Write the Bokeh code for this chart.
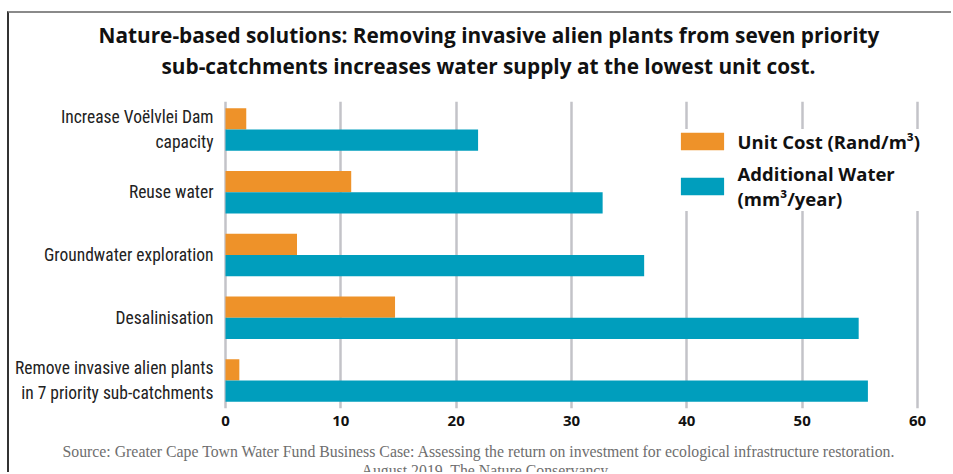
from bokeh.plotting import figure
from bokeh.models import (Range1d, FixedTicker, Legend, LegendItem, Title,
                          ColumnDataSource)
from bokeh.embed import file_html
from bokeh.resources import INLINE

# ---------------- data ----------------
categories = [
    "Increase Voëlvlei Dam\ncapacity",
    "Reuse water",
    "Groundwater exploration",
    "Desalinisation",
    "Remove invasive alien plants\nin 7 priority sub-catchments",
]
unit_cost = [1.8, 10.9, 6.2, 14.7, 1.2]
additional_water = [21.9, 32.7, 36.3, 54.9, 55.7]
x_ticks = [0, 10, 20, 30, 40, 50, 60]
series_names = ["Unit Cost (Rand/m³)", "Additional Water\n(mm³/year)"]
title_lines = [
    "Nature-based solutions: Removing invasive alien plants from seven priority",
    "sub-catchments increases water supply at the lowest unit cost.",
]
source_lines = [
    "Source: Greater Cape Town Water Fund Business Case: Assessing the return on investment for ecological infrastructure restoration.",
    "August 2019. The Nature Conservancy.",
]

# ---------------- layout (page pixels) ----------------
OX, OY = 9, 13            # canvas origin inside the framed crop
W, H = 953 - OX, 474 - OY
FL, FR, FT, FB = 215, 940, 101, 408
X0_PX, X60_PX = 225, 917
ppu = (X60_PX - X0_PX) / 60.0
row_pitch = 62.75
n = len(categories)
pos = [n - 1 - i for i in range(n)]

ORANGE = "#EE9229"
BLUE = "#009EBD"
GRID = "#C3C3C8"
LABEL_FONT = "Roboto Condensed, DejaVu Sans Condensed, Liberation Sans Narrow, Roboto"

p = figure(width=W, height=H, output_backend="svg", toolbar_location=None,
           title=None,
           x_range=Range1d(-(X0_PX - FL) / ppu, (FR - X0_PX) / ppu),
           y_range=Range1d(-(FB - 380) / row_pitch, (n - 1) + (129 - FT) / row_pitch),
           min_border_left=FL - OX, min_border_right=953 - FR,
           min_border_top=FT - OY, min_border_bottom=474 - FB)
p.outline_line_color = None
p.background_fill_color = "white"
p.border_fill_color = "white"
p.styles = {"margin-left": "7px", "margin-top": "11px",
            "border-left": "2px solid #333333", "border-top": "2px solid #8a8a8a"}

src = ColumnDataSource(dict(
    y_cost=[v + 0.17 for v in pos],
    y_water=[v - 0.17 for v in pos],
    cost=unit_cost,
    water=additional_water,
))
r1 = p.hbar(y="y_cost", left=0, right="cost", height=0.34, source=src,
            fill_color=ORANGE, line_color=None)
r2 = p.hbar(y="y_water", left=0, right="water", height=0.34, source=src,
            fill_color=BLUE, line_color=None)

# x axis
p.xaxis.ticker = FixedTicker(ticks=x_ticks)
p.xgrid.ticker = FixedTicker(ticks=x_ticks)
p.xgrid.grid_line_color = GRID
p.xgrid.grid_line_width = 2.5
p.ygrid.visible = False
p.xaxis.axis_line_color = None
p.xaxis.major_tick_line_color = None
p.xaxis.minor_tick_line_color = None
p.xaxis.major_tick_out = 0
p.xaxis.major_label_standoff = 7
p.xaxis.major_label_text_font = "Open Sans"
p.xaxis.major_label_text_font_style = "bold"
p.xaxis.major_label_text_font_size = "15px"
p.xaxis.major_label_text_color = "#111111"

# y axis
p.yaxis.ticker = FixedTicker(ticks=pos)
p.yaxis.major_label_overrides = {pos[i]: categories[i] for i in range(n)}
p.yaxis.axis_line_color = None
p.yaxis.major_tick_line_color = None
p.yaxis.minor_tick_line_color = None
p.yaxis.major_tick_out = 0
p.yaxis.major_label_standoff = 2
p.yaxis.major_label_text_font = LABEL_FONT
p.yaxis.major_label_text_font_size = "17.5px"
p.yaxis.major_label_text_color = "#222222"
p.yaxis.major_label_text_line_height = 1.24

# legend (area glyphs are drawn inset by 10% of the glyph box)
legend = Legend(items=[LegendItem(label=series_names[0], renderers=[r1]),
                       LegendItem(label=series_names[1], renderers=[r2])],
                location=(459.6, 197.4),
                glyph_width=54, glyph_height=22, label_standoff=9,
                padding=10, spacing=7, margin=0,
                label_text_font="Open Sans", label_text_font_style="bold",
                label_text_font_size="18.5px", label_text_color="#111111",
                background_fill_color="white", background_fill_alpha=1.0,
                border_line_color=None)
p.add_layout(legend)


def spacer(gap):
    return Title(text=" ", text_font_size="1px", standoff=gap)


# titles (closest to the frame first)
p.add_layout(spacer(18.6), "above")
p.add_layout(Title(text=title_lines[1], align="left", offset=161 - FL,
                   text_font="Open Sans", text_font_style="bold",
                   text_font_size="20.8px", text_color="#111111",
                   standoff=0), "above")
p.add_layout(Title(text=title_lines[0], align="left", offset=98 - FL,
                   text_font="Open Sans", text_font_style="bold",
                   text_font_size="20.8px", text_color="#111111",
                   standoff=1.2), "above")

# source (below the x axis)
p.add_layout(spacer(3.1), "below")
p.add_layout(Title(text=source_lines[0], align="left", offset=62 - FL,
                   text_font="Liberation Serif", text_font_style="normal",
                   text_font_size="15.8px", text_color="#6E6E6E",
                   standoff=12), "below")
p.add_layout(Title(text=source_lines[1], align="left", offset=361 - FL,
                   text_font="Liberation Serif", text_font_style="normal",
                   text_font_size="15.8px", text_color="#6E6E6E",
                   standoff=-11), "below")

open("out.html", "w").write(file_html(p, INLINE))
